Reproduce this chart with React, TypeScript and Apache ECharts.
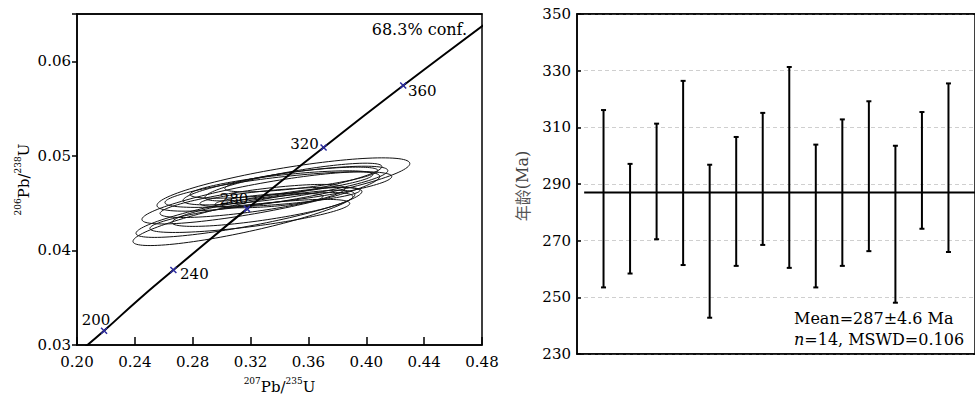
import React, { useEffect, useRef } from 'react';
import * as echarts from 'echarts';

// ---- Concordia curve (tabulated ages in Ma and their ratios) ----
const concordiaAges = [180, 200, 220, 240, 260, 280, 300, 320, 340, 360, 380, 400];
const concordiaX = [0.193958, 0.218708, 0.24193, 0.266635, 0.291832, 0.317529, 0.343737, 0.370467, 0.39773, 0.425532, 0.45389, 0.482811];
const concordiaY = [0.028316, 0.031511, 0.034717, 0.037932, 0.041157, 0.044392, 0.047637, 0.050893, 0.054158, 0.057434, 0.06072, 0.064015];
const markerAges = [200, 240, 280, 320, 360];

// ---- Error ellipses: centre (x, y), x half-width, y shift at the x extreme, half thickness ----
const ellipseCx = [0.3154, 0.3189, 0.3271, 0.3427, 0.3392, 0.3282, 0.3441, 0.3195, 0.3413, 0.3403, 0.3496, 0.3327, 0.3213, 0.3551];
const ellipseCy = [0.04344, 0.04402, 0.04555, 0.04697, 0.04644, 0.04433, 0.04686, 0.04365, 0.04697, 0.04565, 0.04723, 0.04528, 0.04523, 0.0475];
const ellipseSx = [0.0767, 0.0781, 0.0822, 0.0874, 0.0784, 0.0625, 0.0708, 0.0691, 0.0632, 0.0553, 0.0612, 0.0373, 0.0639, 0.0529];
const ellipseDy = [0.00248, 0.00221, 0.00227, 0.00221, 0.00137, 0.00137, 0.00158, 0.00132, 0.00105, 0.00069, 0.00163, 0.00042, 0.00132, 0.00095];
const ellipseH = [0.00155, 0.00145, 0.00155, 0.00175, 0.0013, 0.00115, 0.0013, 0.00115, 0.001, 0.00078, 0.00115, 0.00065, 0.00115, 0.0009];

// ---- Weighted mean age plot ----
const sampleIndex = [1, 2, 3, 4, 5, 6, 7, 8, 9, 10, 11, 12, 13, 14];
const ageHigh = [316.1, 297.1, 311.3, 326.4, 296.8, 306.6, 315.1, 331.3, 303.9, 312.8, 319.2, 303.5, 315.4, 325.5];
const ageLow = [253.5, 258.4, 270.5, 261.4, 242.8, 261.1, 268.5, 260.4, 253.5, 261.1, 266.3, 248.1, 274.2, 266.0];
const meanAge = 287;
const meanLineStart = 0.27;
const meanLineEnd = 15;
const ageAxisMin = 230;
const ageAxisMax = 350;
const ageAxisStep = 20;

const labelOffsets: number[][] = [[-8, -11], [21, 4], [-13, -10], [-19, -3], [19, 5]];

const SERIF = '"DejaVu Serif", "Liberation Serif", serif';
const CJK = '"Noto Sans CJK SC", sans-serif';

export default function App() {
  const ref = useRef<HTMLDivElement>(null);
  useEffect(() => {
    if (!ref.current) return;
    const chart = echarts.init(ref.current, undefined, { renderer: 'svg' });

    const concordiaData = concordiaX.map((x, i) => [x, concordiaY[i]]);
    const markerData = markerAges.map((age, k) => {
      const i = concordiaAges.indexOf(age);
      return {
        value: [concordiaX[i], concordiaY[i]],
        label: { show: true, formatter: String(age), offset: labelOffsets[k] },
      };
    });
    const ellipseData = ellipseCx.map((cx, i) => [cx, ellipseCy[i], ellipseSx[i], ellipseDy[i], ellipseH[i]]);
    const barData = sampleIndex.map((s, i) => [s, ageLow[i] - ageAxisMin, ageHigh[i] - ageAxisMin]);

    const supRich = {
      m: { fontFamily: SERIF, fontSize: 15, color: '#000', lineHeight: 18, verticalAlign: 'bottom' },
      s: { fontFamily: SERIF, fontSize: 9, color: '#000', lineHeight: 10, verticalAlign: 'top' },
    };

    const frameAxis = (gridIndex: number) => ({
      gridIndex, type: 'value', position: 'top', min: 0, max: 1,
      axisLine: { show: true, onZero: false, lineStyle: { color: '#000', width: 1.5 } },
      axisTick: { show: false }, axisLabel: { show: false }, splitLine: { show: false },
    });

    const option: any = {
      animation: false,
      backgroundColor: '#fff',
      grid: [
        { left: 77, top: 14, width: 405, height: 333, show: true, borderColor: '#000', borderWidth: 1.5, backgroundColor: 'transparent' },
        { left: 577, top: 14, width: 408, height: 340, show: true, borderColor: '#000', borderWidth: 1.5, backgroundColor: 'transparent' },
      ],
      xAxis: [
        {
          gridIndex: 0, type: 'value', min: 0.2, max: 0.48, interval: 0.04,
          axisLine: { show: true, onZero: false, lineStyle: { color: '#000', width: 1.5 } },
          axisTick: { show: true, inside: true, length: 8, lineStyle: { color: '#000', width: 1.5 } },
          splitLine: { show: false },
          axisLabel: { color: '#000', fontFamily: SERIF, fontSize: 15, margin: 9, formatter: (v: number) => v.toFixed(2) },
          name: '{s|207}{m|Pb/}{s|235}{m|U}', nameLocation: 'middle', nameGap: 31,
          nameTextStyle: { rich: supRich },
        },
        {
          gridIndex: 1, type: 'value', min: 0, max: 15,
          axisLine: { show: true, onZero: false, lineStyle: { color: '#000', width: 1.5 } },
          axisTick: { show: false }, axisLabel: { show: false }, splitLine: { show: false },
        },
        frameAxis(0),
        frameAxis(1),
      ],
      yAxis: [
        {
          gridIndex: 0, type: 'value', min: 0.03, max: 0.065, interval: 0.01,
          axisLine: { show: true, onZero: false, lineStyle: { color: '#000', width: 1.5 } },
          axisTick: { show: true, inside: false, length: 5, lineStyle: { color: '#000', width: 1.5 } },
          splitLine: { show: false },
          axisLabel: {
            color: '#000', fontFamily: SERIF, fontSize: 15, margin: 6,
            formatter: (v: number) => (Math.abs(v * 100 - Math.round(v * 100)) < 1e-6 ? v.toFixed(2) : ''),
          },
          name: '{s|206}{m|Pb/}{s|238}{m|U}', nameLocation: 'middle', nameRotate: 90, nameGap: 46,
          nameTextStyle: { rich: supRich },
        },
        {
          gridIndex: 1, type: 'value', min: 0, max: ageAxisMax - ageAxisMin, interval: ageAxisStep,
          axisLine: { show: true, onZero: false, lineStyle: { color: '#000', width: 1.5 } },
          axisTick: { show: true, inside: true, length: 4, lineStyle: { color: '#000', width: 1.5 } },
          splitLine: { show: true, lineStyle: { color: '#cfcfcf', type: [4, 3], width: 1 } },
          axisLabel: { color: '#000', fontFamily: SERIF, fontSize: 15, margin: 6, formatter: (v: number) => String(v + ageAxisMin) },
        },
      ],
      series: [
        {
          type: 'custom', xAxisIndex: 0, yAxisIndex: 0, data: ellipseData, encode: { x: 0, y: 1 }, clip: true, z: 2,
          renderItem: (params: any, api: any) => {
            const cx = api.value(0), cy = api.value(1), sx = api.value(2), dy = api.value(3), h = api.value(4);
            const pts: number[][] = [];
            const n = 120;
            for (let k = 0; k < n; k++) {
              const t = (k / n) * Math.PI * 2;
              pts.push(api.coord([cx + sx * Math.cos(t), cy + dy * Math.cos(t) + h * Math.sin(t)]));
            }
            return { type: 'polygon', shape: { points: pts }, style: { fill: 'none', stroke: '#111', lineWidth: 1 } };
          },
        },
        {
          type: 'line', xAxisIndex: 0, yAxisIndex: 0, data: concordiaData, smooth: true, showSymbol: false, clip: true, z: 3,
          lineStyle: { color: '#000', width: 2 },
        },
        {
          type: 'scatter', xAxisIndex: 0, yAxisIndex: 0, data: markerData, z: 4,
          symbol: 'path://M0,0L10,10M10,0L0,10', symbolSize: 6,
          itemStyle: { color: 'transparent', borderColor: '#2b2ba0', borderWidth: 1.5, opacity: 1 },
          label: { show: true, position: 'inside', color: '#000', opacity: 1, fontFamily: SERIF, fontSize: 15, textBorderWidth: 0 },
        },
        {
          type: 'line', xAxisIndex: 1, yAxisIndex: 1, showSymbol: false, z: 3,
          data: [[meanLineStart, meanAge - ageAxisMin], [meanLineEnd, meanAge - ageAxisMin]],
          lineStyle: { color: '#000', width: 2 },
        },
        {
          type: 'custom', xAxisIndex: 1, yAxisIndex: 1, data: barData, encode: { x: 0, y: [1, 2] }, z: 4,
          renderItem: (params: any, api: any) => {
            const x = api.value(0);
            const lo = api.coord([x, api.value(1)]);
            const hi = api.coord([x, api.value(2)]);
            const cap = 2.5;
            const st = { stroke: '#000', lineWidth: 2 };
            return {
              type: 'group',
              children: [
                { type: 'line', shape: { x1: lo[0], y1: lo[1], x2: hi[0], y2: hi[1] }, style: st },
                { type: 'line', shape: { x1: hi[0] - cap, y1: hi[1], x2: hi[0] + cap, y2: hi[1] }, style: st },
                { type: 'line', shape: { x1: lo[0] - cap, y1: lo[1], x2: lo[0] + cap, y2: lo[1] }, style: st },
              ],
            };
          },
        },
      ],
      graphic: [
        {
          type: 'text', x: 522, y: 186, rotation: Math.PI / 2,
          style: {
            text: '{c|年龄}{l|(Ma)}', align: 'center', verticalAlign: 'middle',
            rich: {
              c: { fontFamily: CJK, fontSize: 16, fill: '#555' },
              l: { fontFamily: SERIF, fontSize: 16, fill: '#444' },
            },
          },
        },
        {
          type: 'text', x: 467, y: 29,
          style: { text: '68.3% conf.', fontFamily: SERIF, fontSize: 16, fill: '#000', align: 'right', verticalAlign: 'middle' },
        },
        {
          type: 'text', x: 794, y: 318,
          style: { text: 'Mean=287±4.6 Ma', fontFamily: SERIF, fontSize: 16, fill: '#000', align: 'left', verticalAlign: 'middle' },
        },
        {
          type: 'text', x: 794, y: 339,
          style: {
            text: '{i|n}=14, MSWD=0.106', fontFamily: SERIF, fontSize: 16, fill: '#000', align: 'left', verticalAlign: 'middle',
            rich: { i: { fontFamily: SERIF, fontSize: 16, fontStyle: 'italic', fill: '#000' } },
          },
        },
      ],
    };
    chart.setOption(option);
    return () => chart.dispose();
  }, []);

  return (
    <div
      ref={ref}
      style={{ position: 'fixed', left: 0, top: 0, width: 975, height: 399, overflow: 'hidden', background: '#fff' }}
    />
  );
}
